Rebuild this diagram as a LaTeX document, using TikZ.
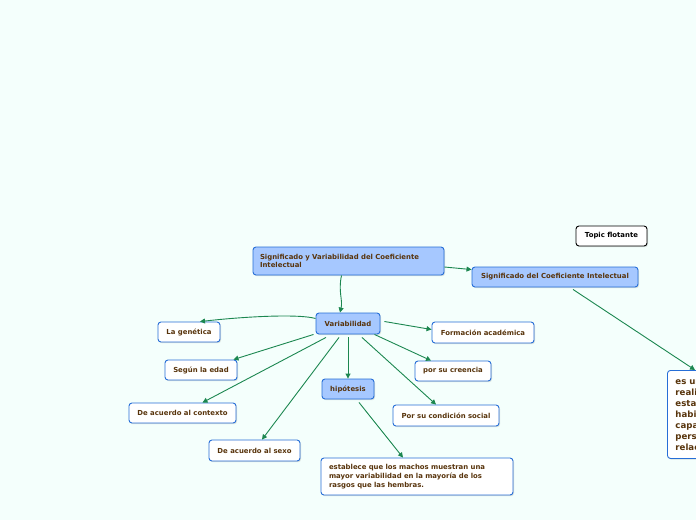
\documentclass[tikz,border=0pt]{standalone}
\usepackage{fontspec}
\setmainfont{DejaVu Sans}
\usetikzlibrary{arrows.meta,calc,shadows}
\definecolor{bgc}{RGB}{244,255,252}
\definecolor{txt}{RGB}{88,52,12}
\definecolor{bfill}{RGB}{166,200,255}
\definecolor{bdraw}{RGB}{38,110,215}
\definecolor{edge}{RGB}{28,135,80}
\tikzset{
  base/.style={rounded corners=3pt, line width=0.9pt, inner sep=0pt, font=\fontsize{6.9}{8.8}\selectfont\bfseries, text=txt,
     drop shadow={opacity=0.25, shadow xshift=1pt, shadow yshift=-1.2pt}},
  bluebox/.style={base, draw=bdraw, fill=bfill},
  whitebox/.style={base, draw=bdraw, fill=white},
  floatbox/.style={base, draw=black, fill=white, text=black},
  conn/.style={draw=edge, line width=0.9pt, -{Triangle[length=5pt,width=5pt]}},
}
\begin{document}
\begin{tikzpicture}[x=1pt,y=-1pt]
\useasboundingbox[fill=bgc] (0,0) rectangle (696,520);
\node[bluebox, minimum width=191pt, minimum height=28pt, text width=177pt, align=left] (main) at (348.5,261) {Significado y Variabilidad del Coeficiente\\Intelectual};
\node[bluebox, minimum width=166pt, minimum height=20pt] (sig) at (555,277) {Significado del Coeficiente Intelectual};
\node[floatbox, minimum width=71pt, minimum height=20pt] (topic) at (611.5,236) {Topic flotante};
\node[bluebox, minimum width=64pt, minimum height=21pt] (var) at (348,323.5) {Variabilidad};
\node[whitebox, minimum width=62pt, minimum height=20pt] (gen) at (189,332) {La genética};
\node[whitebox, minimum width=72pt, minimum height=20pt] (edad) at (201,370) {Según la edad};
\node[whitebox, minimum width=107pt, minimum height=20pt] (ctx) at (182.5,413) {De acuerdo al contexto};
\node[whitebox, minimum width=91pt, minimum height=21pt] (sexo) at (254.5,450.5) {De acuerdo al sexo};
\node[bluebox, minimum width=52pt, minimum height=20pt] (hip) at (348,389) {hipótesis};
\node[whitebox, minimum width=102pt, minimum height=21pt] (form) at (483,332.5) {Formación académica};
\node[whitebox, minimum width=76pt, minimum height=20pt] (cree) at (453,371) {por su creencia};
\node[whitebox, minimum width=106pt, minimum height=21pt] (cond) at (446,415.5) {Por su condición social};
\node[whitebox, minimum width=192pt, minimum height=37pt, text width=176pt, align=left, font=\fontsize{6.9}{9}\selectfont\bfseries] (est) at (417,476.5) {establece que los machos muestran una\\mayor variabilidad en la mayoría de los\\rasgos que las hembras.};
\node[whitebox, anchor=north west, minimum width=140pt, minimum height=88pt, text width=124pt, align=left, font=\fontsize{8.6}{11}\selectfont\bfseries] (right) at (667,370) {es una medida que se\\realiza para\\establecer las\\habilidades y\\capacidades de una\\persona en\\relación};
\draw[conn] ($(main.south)+(-7,0)$) .. controls (338,292) and (343,300) .. ($(var.north)+(-8,0)$);
\draw[conn] ($(main.east)+(0,6)$) -- ($(sig.north west)+(0,3)$);
\draw[conn] ($(var.west)+(0,-5)$) .. controls (300,314) and (250,316) .. ($(gen.north)+(11,0)$);
\draw[conn] ($(var.south west)+(-2,0)$) -- ($(edad.north east)+(-4,0)$);
\draw[conn] ($(var.south)+(-22,3)$) -- ($(ctx.north)+(20,0)$);
\draw[conn] ($(var.south)+(-9,3)$) -- ($(sexo.north)+(7.5,0)$);
\draw[conn] ($(var.south)+(0,3)$) -- (hip.north);
\draw[conn] ($(var.south)+(14,3)$) -- ($(cond.north)+(-10,0)$);
\draw[conn] ($(var.south east)+(-6,0)$) -- ($(cree.north)+(-22,0)$);
\draw[conn] ($(var.east)+(4,-2)$) -- ($(form.west)+(0,-3)$);
\draw[conn] ($(hip.south)+(11,3)$) -- ($(est.north)+(-14,0)$);
\draw[conn] ($(sig.south)+(18,2)$) -- ($(right.north west)+(28,0)$);
\end{tikzpicture}
\end{document}
